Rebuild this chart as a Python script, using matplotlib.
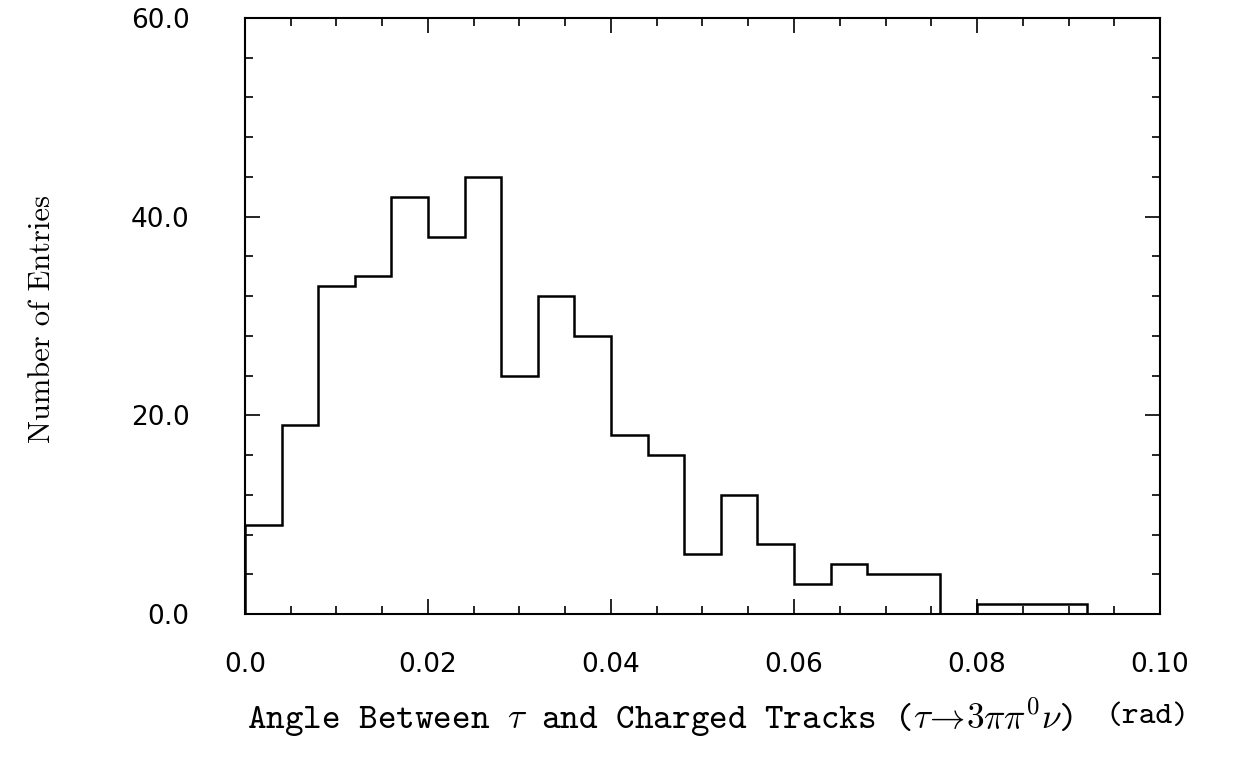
import numpy as np
import matplotlib
matplotlib.use("Agg")
import matplotlib.pyplot as plt
from matplotlib.ticker import MultipleLocator, FixedFormatter, FixedLocator

plt.rcParams['mathtext.fontset'] = 'cm'
plt.rcParams['axes.unicode_minus'] = False

# angle histogram, 25 bins of 0.004 rad
bin_width = 0.004
counts = [9, 19, 33, 34, 42, 38, 44, 24, 32, 28, 18, 16, 6,
          12, 7, 3, 5, 4, 4, 0, 1, 1, 1, 0, 0]
edges = np.arange(len(counts) + 1) * bin_width

x_ticks = [0.0, 0.02, 0.04, 0.06, 0.08, 0.10]
x_labels = ["0.0", "0.02", "0.04", "0.06", "0.08", "0.10"]
y_ticks = [0, 20, 40, 60]
y_labels = ["0.0", "20.0", "40.0", "60.0"]

fig = plt.figure(figsize=(12.48, 7.59), dpi=100)
ax = fig.add_axes([0.1963, 0.191, 0.7332, 0.7853])

ax.stairs(counts, edges, baseline=0, color="black", linewidth=1.8)

ax.set_xlim(0, 0.10)
ax.set_ylim(0, 60)

ax.xaxis.set_major_locator(FixedLocator(x_ticks))
ax.xaxis.set_major_formatter(FixedFormatter(x_labels))
ax.xaxis.set_minor_locator(MultipleLocator(0.005))
ax.yaxis.set_major_locator(FixedLocator(y_ticks))
ax.yaxis.set_major_formatter(FixedFormatter(y_labels))
ax.yaxis.set_minor_locator(MultipleLocator(4))

ax.tick_params(which="both", direction="in", top=True, right=True,
               width=1.2, colors="black")
ax.tick_params(which="major", length=11)
ax.tick_params(which="minor", length=6)
ax.tick_params(axis="y", which="major", pad=40, labelsize=19)
ax.tick_params(axis="x", which="major", pad=27, labelsize=19)
for lbl in ax.get_xticklabels() + ax.get_yticklabels():
    lbl.set_fontfamily("DejaVu Sans")

for sp in ax.spines.values():
    sp.set_linewidth(1.5)

fig.text(0.034, 0.58, "Number of Entries", rotation=90, ha="center",
         va="center", fontsize=22, family="cmr10")
fig.text(0.198, 0.055,
         r"Angle Between $\tau$ and Charged Tracks ($\tau\!\rightarrow\!3\pi\pi^0\nu$)",
         ha="left", va="center", fontsize=25.5, family="cmtt10")
fig.text(0.953, 0.055, "(rad)", ha="right", va="center", fontsize=23,
         family="cmtt10")

fig.savefig("out.png", dpi=100, facecolor="white")
